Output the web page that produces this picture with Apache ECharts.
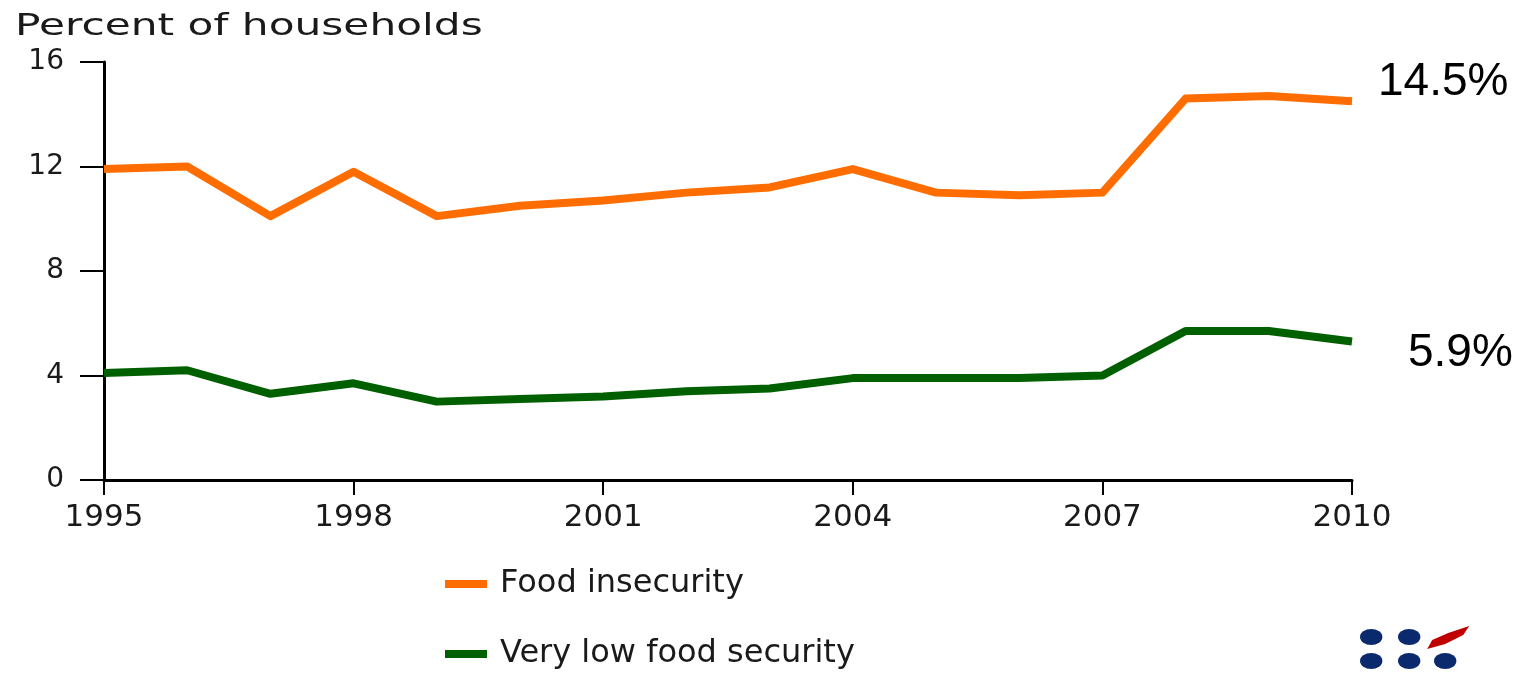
<!DOCTYPE html>
<html>
<head>
<meta charset="utf-8">
<script src="https://cdn.jsdelivr.net/npm/echarts@6/dist/echarts.min.js"></script>
<style>
  html, body { margin: 0; padding: 0; background: #ffffff; }
  #chart { width: 1527px; height: 677px; }
</style>
</head>
<body>
<div id="chart"></div>
<script>
// ---- data ----
const years = ['1995','1996','1997','1998','1999','2000','2001','2002','2003','2004','2005','2006','2007','2008','2009','2010'];
const foodInsecurity = [11.9, 12.0, 10.1, 11.8, 10.1, 10.5, 10.7, 11.0, 11.2, 11.9, 11.0, 10.9, 11.0, 14.6, 14.7, 14.5];
const veryLowFoodSecurity = [4.1, 4.2, 3.3, 3.7, 3.0, 3.1, 3.2, 3.4, 3.5, 3.9, 3.9, 3.9, 4.0, 5.7, 5.7, 5.3];
const seriesNames = ['Food insecurity', 'Very low food security'];
const endLabels = ['14.5%', '5.9%'];
const yTicks = { min: 0, max: 16, interval: 4 };
const yAxisTitle = 'Percent of households';

const chart = echarts.init(document.getElementById('chart'), null, { renderer: 'canvas' });
const sans = 'DejaVu Sans';

const option = {
  backgroundColor: '#ffffff',
  animation: false,
  grid: { left: 104, right: 175, top: 62, bottom: 197, containLabel: false },
  legend: {
    orient: 'vertical',
    left: 440,
    top: 563,
    itemWidth: 42,
    itemHeight: 8,
    itemGap: 38,
    icon: 'rect',
    textStyle: { fontFamily: sans, fontSize: 32, color: '#1a1a1a', padding: [0, 0, 0, 8] },
    data: seriesNames
  },
  xAxis: {
    type: 'category',
    data: years,
    boundaryGap: false,
    axisLine: { lineStyle: { color: '#000', width: 3 } },
    axisTick: { interval: 2, length: 15, lineStyle: { color: '#000', width: 2 } },
    axisLabel: { interval: 2, margin: 22, fontFamily: sans, fontSize: 31, color: '#1a1a1a' },
    splitLine: { show: false }
  },
  yAxis: {
    type: 'value',
    min: yTicks.min,
    max: yTicks.max,
    interval: yTicks.interval,
    axisLine: { show: true, lineStyle: { color: '#000', width: 3 } },
    axisTick: { show: true, length: 24, lineStyle: { color: '#000', width: 2 } },
    axisLabel: { margin: 40, fontFamily: sans, fontSize: 28, color: '#1a1a1a' },
    splitLine: { show: false }
  },
  series: [
    {
      name: seriesNames[0],
      type: 'line',
      data: foodInsecurity,
      symbol: 'none',
      lineStyle: { color: '#ff6d00', width: 8, join: 'round' },
      itemStyle: { color: '#ff6d00' },
      endLabel: {
        show: true,
        formatter: () => endLabels[0],
        distance: 0,
        offset: [26, -19],
        fontFamily: 'Liberation Sans',
        fontSize: 46,
        color: '#000'
      }
    },
    {
      name: seriesNames[1],
      type: 'line',
      data: veryLowFoodSecurity,
      symbol: 'none',
      lineStyle: { color: '#006000', width: 8, join: 'round' },
      itemStyle: { color: '#006000' },
      endLabel: {
        show: true,
        formatter: () => endLabels[1],
        distance: 0,
        offset: [56, 12],
        fontFamily: 'Liberation Sans',
        fontSize: 46,
        color: '#000'
      }
    }
  ],
  graphic: [
    {
      type: 'text',
      x: 15,
      y: 12,
      scaleX: 1.41,
      style: {
        text: yAxisTitle,
        fontFamily: sans,
        fontSize: 30,
        fill: '#1a1a1a',
        verticalAlign: 'top',
        align: 'left'
      }
    },
    {
      type: 'group',
      left: 1360,
      top: 626,
      children: [
        { type: 'circle', x: 11, y: 12, scaleX: 1.4, shape: { cx: 0, cy: 0, r: 8 }, style: { fill: '#0b2a6e' } },
        { type: 'circle', x: 49, y: 12, scaleX: 1.4, shape: { cx: 0, cy: 0, r: 8 }, style: { fill: '#0b2a6e' } },
        { type: 'circle', x: 11, y: 36, scaleX: 1.4, shape: { cx: 0, cy: 0, r: 8 }, style: { fill: '#0b2a6e' } },
        { type: 'circle', x: 49, y: 36, scaleX: 1.4, shape: { cx: 0, cy: 0, r: 8 }, style: { fill: '#0b2a6e' } },
        { type: 'circle', x: 85, y: 36, scaleX: 1.4, shape: { cx: 0, cy: 0, r: 8 }, style: { fill: '#0b2a6e' } },
        { type: 'polygon', shape: { points: [[67, 24], [72, 15], [88, 8], [109, 1], [103, 10], [85, 19]] }, style: { fill: '#c00000' } }
      ]
    }
  ]
};

chart.setOption(option);
</script>
</body>
</html>
